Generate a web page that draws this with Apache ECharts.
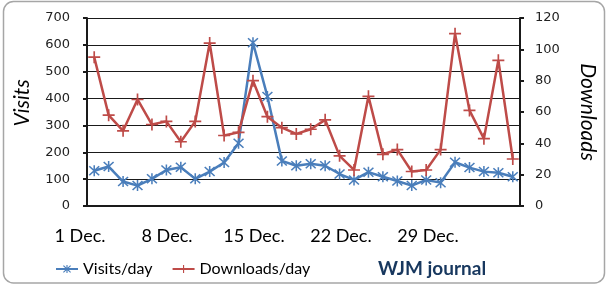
<!DOCTYPE html>
<html>
<head>
<meta charset="utf-8">
<script src="https://cdn.jsdelivr.net/npm/echarts@6/dist/echarts.min.js"></script>
<style>
  html, body { margin: 0; padding: 0; background: #fff; }
  #chart { width: 607px; height: 286px; }
</style>
</head>
<body>
<div id="chart"></div>
<script>
// days of December shown on the chart (1..30)
const days = []
for (let d = 1; d <= 30; d++) days.push(d + ' Dec.')
// x axis labels
const tickLabels = ['1 Dec.', '8 Dec.', '15 Dec.', '22 Dec.', '29 Dec.']
// visits per day (left axis)
const visits = [131, 147, 91, 76, 101, 134, 144, 101, 128, 162, 234, 608, 408, 168, 150, 157, 150, 119,
  97, 126, 109, 93, 76, 97, 87, 163, 143, 128, 124, 109]
// downloads per day (right axis)
const downloads = [95, 58, 48, 68, 52, 54, 41, 54, 104, 45, 47, 80, 57, 50, 46, 49, 55, 32,
  23, 70, 33, 36, 22, 23, 36, 110, 61, 43, 93, 30]

const blue = '#4a7ebb'
const red = '#be4b48'
// marker shapes (filled outlines): star = X + vertical bar, plus = cross
const starPath = 'path://M0,1L1,0L10,9L9,10ZM9,0L10,1L1,10L0,9ZM4.3,-0.5L5.7,-0.5L5.7,10.5L4.3,10.5Z'
const plusPath = 'path://M4.3,0L5.7,0L5.7,4.3L10,4.3L10,5.7L5.7,5.7L5.7,10L4.3,10L4.3,5.7L0,5.7L0,4.3L4.3,4.3Z'

const chart = echarts.init(document.getElementById('chart'))
chart.setOption({
  animation: false,
  backgroundColor: '#fff',
  title: {
    text: 'WJM journal',
    left: 373,
    top: 254,
    textStyle: { fontFamily: 'Lato', fontSize: 19, fontWeight: 'bold', color: '#17375e' }
  },
  legend: {
    left: 50,
    top: 256,
    itemWidth: 22,
    itemHeight: 10,
    itemGap: 19,
    textStyle: { fontFamily: 'Lato', fontSize: 16, color: '#000' },
    data: ['Visits/day', 'Downloads/day']
  },
  graphic: [{
    type: 'rect',
    shape: { x: 3.5, y: 1.5, width: 601, height: 281.5, r: 10 },
    style: { fill: 'none', stroke: '#a6a6a6', lineWidth: 1.5 },
    z: -1
  }],
  grid: [
    { left: 87, right: 87, top: 18, bottom: 80 },
    // grid only used to place the date labels
    { left: 80, width: 348, top: 18, bottom: 80 }
  ],
  xAxis: [
    {
      type: 'category',
      gridIndex: 0,
      data: days,
      boundaryGap: true,
      axisLine: { lineStyle: { color: '#1a1a1a', width: 2 } },
      axisTick: { interval: 6, length: 5, lineStyle: { color: '#1a1a1a', width: 2 } },
      axisLabel: { show: false }
    },
    {
      type: 'category',
      gridIndex: 1,
      data: tickLabels,
      boundaryGap: false,
      axisLine: { show: false },
      axisTick: { show: false },
      axisLabel: { margin: 21, fontFamily: 'Lato', fontSize: 18, color: '#000' }
    }
  ],
  yAxis: [
    {
      type: 'value',
      gridIndex: 0,
      min: 0, max: 700, interval: 100,
      name: 'Visits',
      nameLocation: 'middle',
      nameRotate: 90,
      nameGap: 54,
      nameTextStyle: { fontFamily: 'Lato', fontSize: 21, fontStyle: 'italic', color: '#000', padding: [0, 0, 0, 18] },
      axisLine: { show: true, lineStyle: { color: '#1a1a1a', width: 2 } },
      axisTick: { show: true, length: 4, lineStyle: { color: '#1a1a1a', width: 2 } },
      axisLabel: { margin: 17, fontFamily: 'DejaVu Sans', fontSize: 13, color: '#222' },
      splitLine: { lineStyle: { color: '#1a1a1a', width: 1 } }
    },
    {
      type: 'value',
      gridIndex: 0,
      position: 'right',
      min: 0, max: 120, interval: 20,
      name: 'Downloads',
      nameLocation: 'middle',
      nameRotate: -90,
      nameGap: 57,
      nameTextStyle: { fontFamily: 'Lato', fontSize: 21, fontStyle: 'italic', color: '#000' },
      axisLine: { show: true, lineStyle: { color: '#1a1a1a', width: 2 } },
      axisTick: { show: true, length: 4, lineStyle: { color: '#1a1a1a', width: 2 } },
      axisLabel: { margin: 15, fontFamily: 'DejaVu Sans', fontSize: 13, color: '#222' },
      splitLine: { show: false }
    },
    { type: 'value', gridIndex: 1, show: false }
  ],
  series: [
    {
      name: 'Visits/day',
      type: 'line',
      xAxisIndex: 0,
      yAxisIndex: 0,
      data: visits,
      symbol: starPath,
      symbolSize: 11,
      showSymbol: true,
      showAllSymbol: true,
      lineStyle: { color: blue, width: 2.5 },
      itemStyle: { color: blue, borderWidth: 0 }
    },
    {
      name: 'Downloads/day',
      type: 'line',
      xAxisIndex: 0,
      yAxisIndex: 1,
      data: downloads,
      symbol: plusPath,
      symbolSize: 12,
      showSymbol: true,
      showAllSymbol: true,
      lineStyle: { color: red, width: 2.5 },
      itemStyle: { color: red, borderWidth: 0 }
    }
  ]
})
</script>
</body>
</html>
